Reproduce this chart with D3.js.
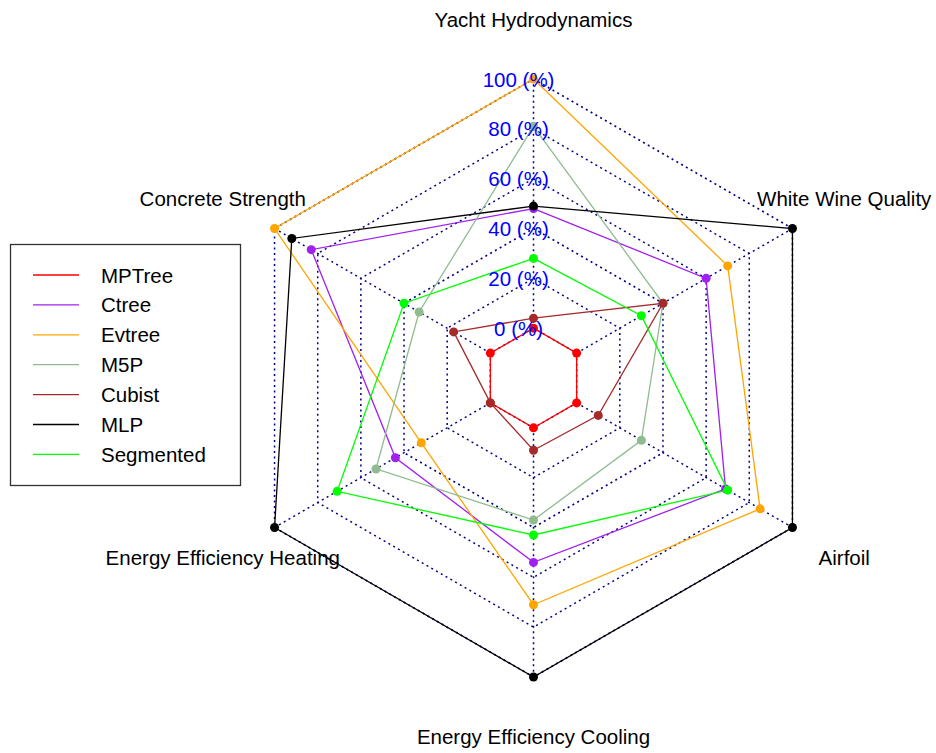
<!DOCTYPE html>
<html>
<head>
<meta charset="utf-8">
<script src="https://cdn.jsdelivr.net/npm/d3@7"></script>
<style>
  body { margin: 0; background: #fff; }
  text { font-family: "Liberation Sans", Arial, sans-serif; }
</style>
</head>
<body>
<div id="viz-container"></div>
<script>
// axes, clockwise from the top
const axes = ["Yacht Hydrodynamics", "White Wine Quality", "Airfoil",
    "Energy Efficiency Cooling", "Energy Efficiency Heating", "Concrete Strength"];
const ticks = [0, 20, 40, 60, 80, 100];

const models = ["MPTree", "Ctree", "Evtree", "M5P", "Cubist", "MLP", "Segmented"];
const colors = ["#FF0000", "#A020F0", "#FFA500", "#8FBC8F", "#A52A2A", "#000000", "#00FF00"];

// percent values per model, same order as axes
const mptree    = [0, 0, 0, 0, 0, 0];
const ctree     = [48, 60, 69, 54, 44, 83];
const evtree    = [100, 70, 85, 71, 32, 100];
const m5p       = [81, 40, 30, 37, 53, 33];
const cubist    = [4, 40, 10, 9, 0, 17];
const mlp       = [49, 100, 100, 100, 100, 92];
const segmented = [28, 30, 70, 43, 71, 40];
const series = [mptree, ctree, evtree, m5p, cubist, mlp, segmented];

const width = 936, height = 753;
const cx = 533.5, cy = 378, R = 299;

const svg = d3.select("#viz-container")
    .append("svg")
    .attr("width", width)
    .attr("height", height)
    .attr("viewBox", [0, 0, width, height]);

// inner ring is 0 %, like fmsb's radarchart
const r = d3.scaleLinear().domain([0, 100]).range([R / 6, R]);
const angle = i => i * 2 * Math.PI / axes.length;
const pt = (i, rad) => [cx + rad * Math.sin(angle(i)), cy - rad * Math.cos(angle(i))];

const g = svg.append("g");

// grid rings
const ring = d3.line().curve(d3.curveLinearClosed);
g.selectAll("path.ring")
    .data(ticks)
    .join("path")
    .attr("class", "ring")
    .attr("d", t => ring(axes.map((a, i) => pt(i, r(t)))))
    .attr("fill", "none")
    .attr("stroke", "#000080")
    .attr("stroke-width", 1.5)
    .attr("stroke-dasharray", "2,3.5");

// spokes
g.selectAll("line.spoke")
    .data(axes)
    .join("line")
    .attr("class", "spoke")
    .attr("x1", (d, i) => pt(i, r(0))[0])
    .attr("y1", (d, i) => pt(i, r(0))[1])
    .attr("x2", (d, i) => pt(i, r(100))[0])
    .attr("y2", (d, i) => pt(i, r(100))[1])
    .attr("stroke", "#000080")
    .attr("stroke-width", 1.5)
    .attr("stroke-dasharray", "2,3.5");

// model polygons
series.forEach((vals, k) => {
    const pts = vals.map((v, i) => pt(i, r(v)));
    g.append("path")
        .attr("d", ring(pts))
        .attr("fill", "none")
        .attr("stroke", colors[k])
        .attr("stroke-width", 1.3);
    g.selectAll(null)
        .data(pts)
        .join("circle")
        .attr("cx", d => d[0])
        .attr("cy", d => d[1])
        .attr("r", 4.5)
        .attr("fill", colors[k]);
});

// tick labels
g.selectAll("text.tick")
    .data(ticks)
    .join("text")
    .attr("class", "tick")
    .attr("x", cx - 0.05 * R)
    .attr("y", t => cy - r(t))
    .attr("text-anchor", "middle")
    .attr("dominant-baseline", "central")
    .attr("fill", "#0000FF")
    .attr("font-size", "20.5px")
    .text(t => t + " (%)");

// axis names
g.selectAll("text.axis")
    .data(axes)
    .join("text")
    .attr("class", "axis")
    .attr("x", (d, i) => pt(i, R * 1.2)[0])
    .attr("y", (d, i) => pt(i, R * 1.2)[1])
    .attr("text-anchor", "middle")
    .attr("dominant-baseline", "central")
    .attr("fill", "#000")
    .attr("font-size", "20.5px")
    .text(d => d);

// legend
const leg = svg.append("g");
leg.append("rect")
    .attr("x", 10.5).attr("y", 244.5)
    .attr("width", 230).attr("height", 241)
    .attr("fill", "#fff")
    .attr("stroke", "#333")
    .attr("stroke-width", 1.3);
const row = leg.selectAll("g.row")
    .data(models)
    .join("g")
    .attr("class", "row")
    .attr("transform", (d, i) => `translate(0,${275 + i * 29.9})`);
row.append("line")
    .attr("x1", 33).attr("x2", 79)
    .attr("stroke", (d, i) => colors[i])
    .attr("stroke-width", 1.3);
row.append("text")
    .attr("x", 101)
    .attr("dominant-baseline", "central")
    .attr("font-size", "20.5px")
    .text(d => d);
</script>
</body>
</html>
